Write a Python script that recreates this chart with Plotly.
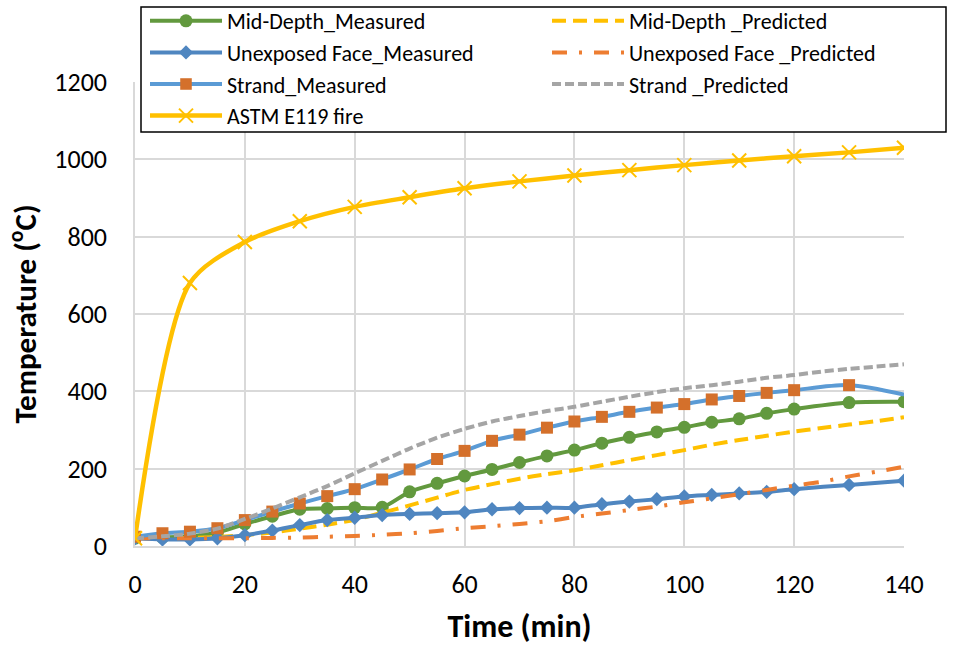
import plotly.graph_objects as go

# ---- data ----
t_meas = [0, 5, 10, 15, 20, 25, 30, 35, 40, 45, 50, 55, 60, 65, 70, 75, 80, 85,
          90, 95, 100, 105, 110, 115, 120, 130, 140]
mid_meas = [20, 22, 25, 35, 57, 77, 95, 97, 99, 100, 140, 162, 181, 198, 216, 233,
            248, 266, 281, 295, 307, 320, 329, 343, 354, 371, 373]
unexp_meas = [20, 17, 17, 20, 28, 40, 54, 67, 73, 80, 83, 85, 87, 95, 98, 99,
              99, 108, 115, 121, 128, 132, 136, 140, 147, 158, 169]
strand_meas = [24, 33, 37, 46, 67, 89, 110, 129, 147, 172, 198, 225, 246, 272,
               288, 306, 322, 334, 347, 358, 367, 379, 388, 396, 403, 416, 392]

t_pred = [0, 5, 10, 15, 20, 25, 30, 35, 40, 45, 50, 55, 60, 65, 70, 75, 80, 85,
          90, 95, 100, 105, 110, 115, 120, 125, 130, 135, 140]
mid_pred = [20, 20, 21, 23, 28, 35, 45, 55, 68, 86, 105, 125, 145, 160, 174, 186,
            196, 209, 222, 235, 248, 262, 274, 285, 296, 305, 314, 323, 333]
unexp_pred = [20, 20, 20, 20, 20, 21, 22, 24, 26, 29, 33, 39, 46, 51, 57, 64, 75,
              84, 93, 102, 113, 123, 134, 145, 156, 166, 180, 192, 205]
strand_pred = [20, 25, 32, 45, 70, 97, 126, 155, 188, 220, 252, 280, 303, 322, 336,
               349, 360, 373, 386, 398, 408, 416, 425, 435, 442, 451, 458, 464, 470]

t_fire = [0, 10, 20, 30, 40, 50, 60, 70, 80, 90, 100, 110, 120, 130, 140]
astm_fire = [20, 680, 786, 840, 877, 902, 925, 943, 958, 972, 985, 997, 1008, 1018, 1030]

x_ticks = [0, 20, 40, 60, 80, 100, 120, 140]
y_ticks = [0, 200, 400, 600, 800, 1000, 1200]

FONT = "Carlito, Calibri, 'Liberation Sans', sans-serif"

fig = go.Figure()

def add(x, y, name, color, dash="solid", marker=None, width=4, legend="legend"):
    kw = dict(x=x, y=y, name=name, legend=legend,
              line=dict(color=color, width=width, dash=dash,
                        shape="spline", smoothing=0.8))
    if marker:
        kw["mode"] = "lines+markers"
        marker.setdefault("opacity", 1)
        marker.setdefault("line", dict(width=0))
        kw["marker"] = marker
    else:
        kw["mode"] = "lines"
    fig.add_trace(go.Scatter(**kw))

strand_sizes = [12] * (len(t_meas) - 1) + [0]

add(t_meas, mid_meas, "Mid-Depth_Measured", "#62993E",
    marker=dict(symbol="circle", size=13, color="#62993E"))
add(t_pred, mid_pred, "Mid-Depth _Predicted", "#FFC000", dash="14px,7px",
    legend="legend2")
add(t_meas, unexp_meas, "Unexposed Face_Measured", "#4F86C0",
    marker=dict(symbol="diamond", size=11, color="#4F86C0"))
add(t_pred, unexp_pred, "Unexposed Face _Predicted", "#ED7D31",
    dash="15px,12px,3px,12px", legend="legend2")
add(t_meas, strand_meas, "Strand_Measured", "#5B9BD5",
    marker=dict(symbol="square", size=strand_sizes, color="#D4702B"))
add(t_pred, strand_pred, "Strand _Predicted", "#A5A5A5", dash="9px,4px",
    legend="legend2")
add(t_fire, astm_fire, "ASTM E119 fire", "#FFC000", width=4.5,
    marker=dict(symbol="x-thin", size=14, color="#FFC000",
                line=dict(color="#FFC000", width=2)))

# plot area in pixels: x 135..904, y 82..546
PL, PR, PT, PB = 135, 904, 82, 546
def px_x(p):
    return (p - PL) / (PR - PL)
def px_y(p):
    return (PB - p) / (PB - PT)

legend_common = dict(
    orientation="v", yanchor="top", xanchor="left",
    bgcolor="rgba(0,0,0,0)", borderwidth=0,
    font=dict(family=FONT, size=22, color="black"),
    itemwidth=72, traceorder="normal",
)

fig.add_shape(type="rect", xref="paper", yref="paper",
              x0=px_x(141), x1=px_x(946), y0=px_y(132), y1=px_y(7),
              line=dict(color="black", width=1.5), fillcolor="white", layer="above")

fig.update_layout(
    width=953, height=648,
    margin=dict(l=PL, r=953 - PR, t=PT, b=648 - PB, autoexpand=False),
    paper_bgcolor="white", plot_bgcolor="white",
    font=dict(family=FONT, size=26, color="black"),
    showlegend=True,
    legend=dict(x=px_x(145), y=px_y(0), **legend_common),
    legend2=dict(x=px_x(547), y=px_y(0), **legend_common),
    xaxis=dict(
        range=[0, 140], tickvals=x_ticks, showgrid=True, gridcolor="#D9D9D9",
        gridwidth=1.5, showline=True, linecolor="#D9D9D9", linewidth=1.5,
        zeroline=False, ticks="", ticklabelstandoff=14, automargin=False,
        tickfont=dict(family=FONT, size=26, color="black"),
        title=dict(text="<b>Time (min)</b>", font=dict(family=FONT, size=32), standoff=16),
    ),
    yaxis=dict(
        range=[0, 1200], tickvals=y_ticks, showgrid=True, gridcolor="#D9D9D9",
        gridwidth=1.5, showline=True, linecolor="#D9D9D9", linewidth=1.5,
        zeroline=False, ticks="", ticklabelstandoff=21, automargin=False,
        tickfont=dict(family=FONT, size=26, color="black"),
        title=dict(text="<b>Temperature (<sup>o</sup>C)</b>", font=dict(family=FONT, size=31),
                   standoff=8),
    ),
)

fig.write_html("out.html", config={"displayModeBar": False},
               post_script="document.body.style.margin='0';")
